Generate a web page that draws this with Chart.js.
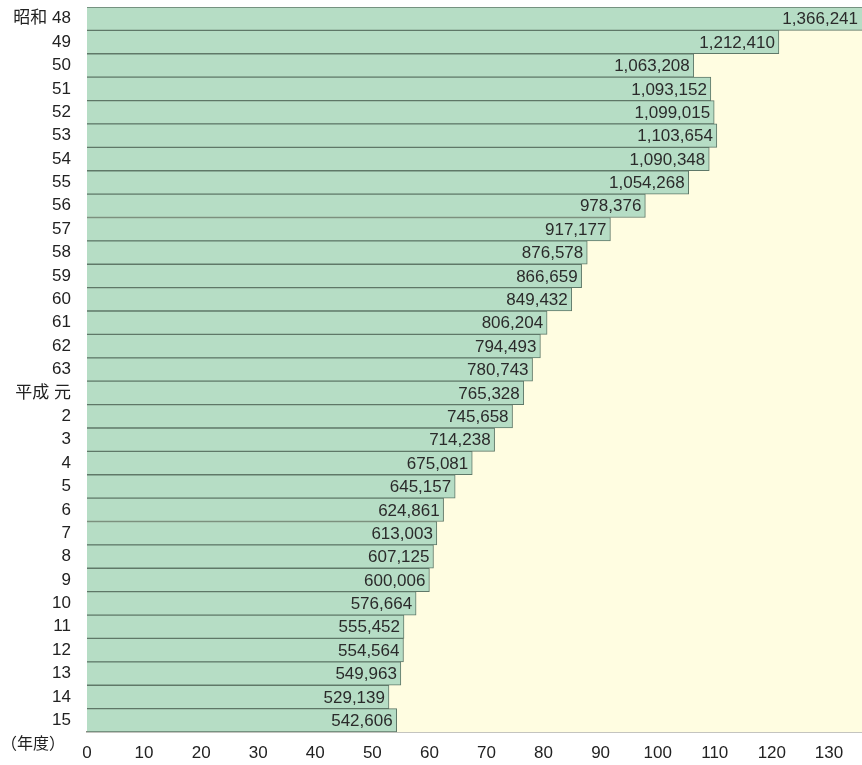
<!DOCTYPE html>
<html>
<head>
<meta charset="utf-8">
<script src="https://cdn.jsdelivr.net/npm/chart.js@4"></script>
<style>
  html, body { margin: 0; padding: 0; background: #ffffff; }
  #wrap { width: 862px; height: 765px; position: relative; }
</style>
</head>
<body>
<div id="wrap"><canvas id="birthChart"></canvas></div>
<script>
// year labels (era + year)
const yearLabels = [
    '昭和 48', '49', '50', '51', '52', '53', '54', '55', '56', '57', '58', '59', '60', '61', '62', '63',
    '平成 元', '2', '3', '4', '5', '6', '7', '8', '9', '10', '11', '12', '13', '14', '15'
];
// counts per year
const counts = [
    1366241, 1212410, 1063208, 1093152, 1099015, 1103654, 1090348, 1054268, 978376, 917177,
    876578, 866659, 849432, 806204, 794493, 780743, 765328, 745658, 714238, 675081,
    645157, 624861, 613003, 607125, 600006, 576664, 555452, 554564, 549963, 529139, 542606
];
// x axis in units of 10,000
const axisMin = 0;
const axisMax = 135.8;
const axisStep = 10;

const barFill = '#b6ddc5';
const barLine = '#5f7868';
const plotBg = '#fffde1';
const textFont = '"Liberation Sans", Arial, "Noto Sans CJK JP", sans-serif';

// fill plot area and draw value labels at the bar ends
const barTextPlugin = {
    id: 'barText',
    beforeDatasetsDraw(chart) {
        const a = chart.chartArea;
        const ctx = chart.ctx;
        ctx.save();
        ctx.fillStyle = plotBg;
        ctx.fillRect(a.left, a.top, a.right - a.left, a.bottom - a.top);
        ctx.restore();
    },
    afterDatasetsDraw(chart) {
        const ctx = chart.ctx;
        const a = chart.chartArea;
        const meta = chart.getDatasetMeta(0);
        ctx.save();
        ctx.font = '17px ' + textFont;
        ctx.fillStyle = '#2b2b2b';
        ctx.textAlign = 'right';
        ctx.textBaseline = 'middle';
        meta.data.forEach(function (bar, i) {
            const x = Math.min(bar.x, a.right) - 4;
            ctx.fillText(counts[i].toLocaleString('en-US'), x, bar.y + 1);
        });
        // unit note under the year labels
        ctx.font = '16px "Noto Sans CJK JP", sans-serif';
        ctx.fillStyle = '#222';
        ctx.textAlign = 'left';
        ctx.fillText('（年度）', 1, a.bottom + 11);
        ctx.restore();
    }
};

const ctx = document.getElementById('birthChart').getContext('2d');

new Chart(ctx, {
    type: 'bar',
    data: {
        labels: yearLabels,
        datasets: [{
            data: counts.map(function (v) { return v / 10000; }),
            backgroundColor: barFill,
            borderColor: barLine,
            borderWidth: 1,
            borderSkipped: 'left',
            categoryPercentage: 1.0,
            barPercentage: 1.0
        }]
    },
    options: {
        indexAxis: 'y',
        responsive: true,
        maintainAspectRatio: false,
        animation: false,
        layout: {
            padding: { top: 7, right: 0, bottom: 0, left: 0 }
        },
        scales: {
            x: {
                min: axisMin,
                max: axisMax,
                grid: { display: false, drawTicks: false },
                border: { display: true, color: '#8a8a80', width: 1.5 },
                ticks: {
                    stepSize: axisStep,
                    includeBounds: false,
                    padding: 11,
                    color: '#222',
                    maxRotation: 0,
                    font: { family: textFont, size: 17 }
                },
                afterFit: function (scale) {
                    scale.height = 33;
                    scale.paddingRight = 0;
                }
            },
            y: {
                grid: { display: false, drawTicks: false },
                border: { display: false },
                ticks: {
                    padding: 16,
                    color: '#222',
                    autoSkip: false,
                    font: { family: textFont, size: 17 }
                },
                afterFit: function (scale) {
                    scale.width = 87;
                    scale.paddingTop = 0;
                    scale.paddingBottom = 0;
                }
            }
        },
        plugins: {
            legend: { display: false },
            tooltip: { enabled: false }
        }
    },
    plugins: [barTextPlugin]
});
</script>
</body>
</html>
